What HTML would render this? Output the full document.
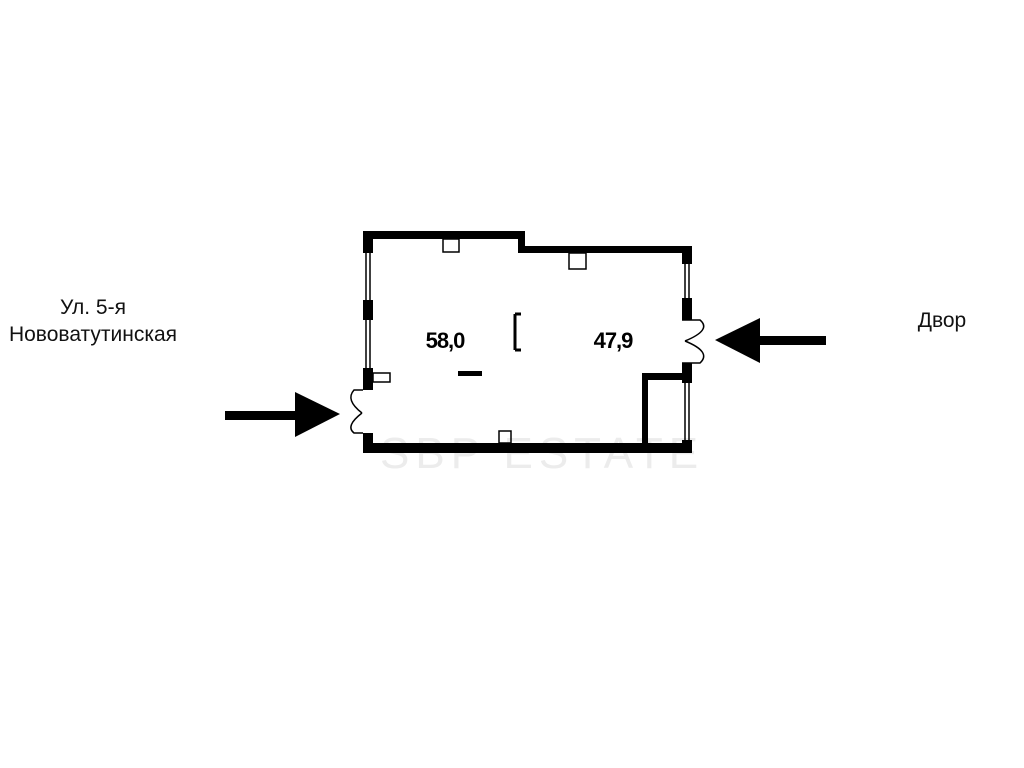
<!DOCTYPE html>
<html><head><meta charset="utf-8"><style>
body{margin:0;background:#fff;}
svg{display:block}
</style></head><body>
<svg width="1024" height="768" viewBox="0 0 1024 768" xmlns="http://www.w3.org/2000/svg">
<rect width="1024" height="768" fill="#fff"/>
<text x="380" y="468" font-family="Liberation Sans, sans-serif" font-size="44" fill="#ececec" letter-spacing="6">SBP ESTATE</text>
<g fill="#000">
<rect x="363" y="231" width="162" height="8"/>
<rect x="518" y="231" width="7" height="22"/>
<rect x="518" y="246" width="174" height="7"/>
<rect x="363" y="231" width="10" height="22"/>
<rect x="363" y="300" width="10" height="20"/>
<rect x="363" y="368" width="10" height="22"/>
<rect x="363" y="433" width="10" height="20"/>
<rect x="682" y="246" width="10" height="18"/>
<rect x="682" y="298" width="10" height="22"/>
<rect x="682" y="363" width="10" height="20"/>
<rect x="682" y="440" width="10" height="13"/>
<rect x="363" y="443" width="329" height="10"/>
<rect x="642" y="373" width="45" height="7"/>
<rect x="642" y="373" width="6" height="75"/>
<rect x="458" y="371" width="24" height="5"/>
<rect x="225" y="411" width="72" height="9"/>
<polygon points="295,392 340,414 295,437"/>
<rect x="758" y="336" width="68" height="9"/>
<polygon points="760,318 715,340 760,363"/>
</g>
<g fill="none" stroke="#000" stroke-width="1.5">
<line x1="366" y1="253" x2="366" y2="300"/><line x1="370" y1="253" x2="370" y2="300"/>
<line x1="366" y1="320" x2="366" y2="368"/><line x1="370" y1="320" x2="370" y2="368"/>
<line x1="685" y1="264" x2="685" y2="298"/><line x1="689" y1="264" x2="689" y2="298"/>
<line x1="685" y1="383" x2="685" y2="440"/><line x1="689" y1="383" x2="689" y2="440"/>
<rect x="443" y="239" width="16" height="13"/>
<rect x="569" y="253" width="17" height="16"/>
<rect x="499" y="431" width="12" height="12"/>
<rect x="373" y="373" width="17" height="9"/>
<path d="M515,314 H521 M515,314 V350 M515,350 H521" stroke-width="3"/>
<path d="M363,390 L354,390 Q345,400 362,413 M363,433 L354,433 Q345,426 362,413"/>
<path d="M682,320 L700,320 Q712,330 685,341 M682,363 L700,363 Q712,352 685,341"/>
</g>
<g font-family="Liberation Sans, sans-serif" font-size="22" fill="#000" text-anchor="middle">
<text x="445" y="348" font-weight="bold" letter-spacing="-1">58,0</text>
<text x="613" y="348" font-weight="bold" letter-spacing="-1">47,9</text>
</g>
<g font-family="Liberation Sans, sans-serif" font-size="21" fill="#111" text-anchor="middle">
<text x="93" y="314">Ул. 5-я</text>
<text x="93" y="341">Нововатутинская</text>
<text x="942" y="327">Двор</text>
</g>
</svg>
</body></html>
